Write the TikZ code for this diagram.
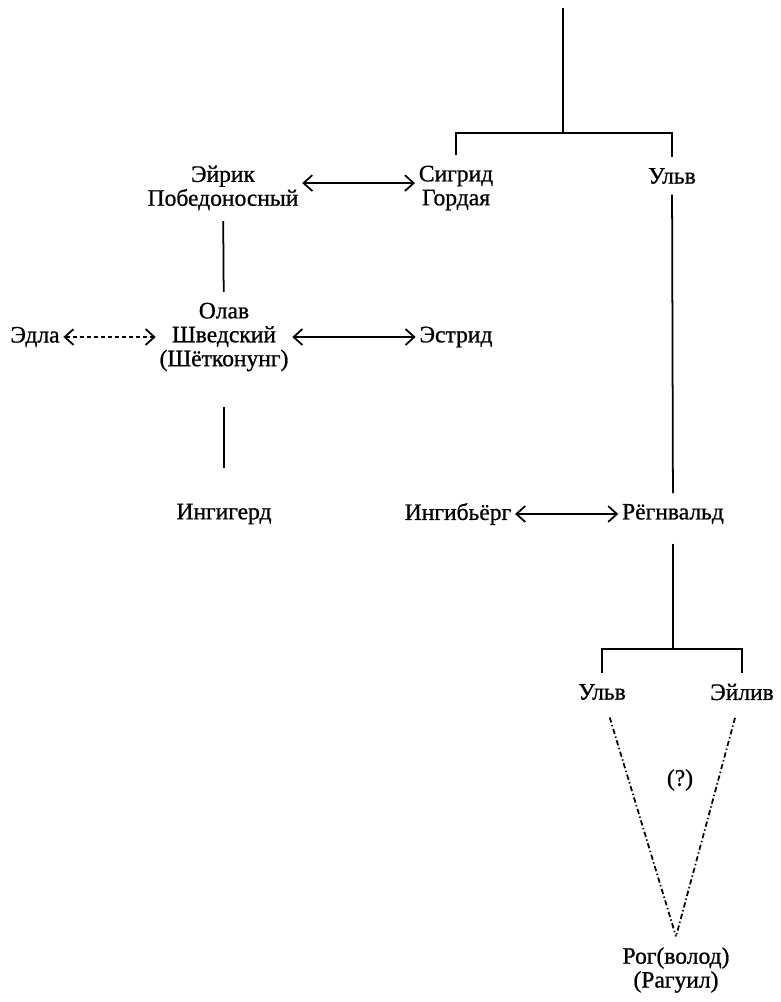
\documentclass[tikz,border=0pt]{standalone}
\usepackage{fontspec}
\setmainfont{Liberation Serif}[FakeBold=0.9]
\usetikzlibrary{arrows.meta}

\begin{document}
\begin{tikzpicture}[x=0.02cm, y=-0.02cm,
    person/.style={align=center, inner xsep=2pt, inner ysep=6pt,
      font=\fontsize{13.4}{13.6}\selectfont},
    kin/.style={line width=1pt},
    wed/.style={line width=1pt,
      {Straight Barb[length=5pt,width=9pt]}-{Straight Barb[length=5pt,width=9pt]}},
    guess/.style={line width=1pt, dash pattern=on 3pt off 1.5pt on 0.8pt off 1.5pt}]
    \useasboundingbox (0,0) rectangle (781,1002);

    % --- upper generation ---
    \coordinate (top) at (563,8);
    \coordinate (fork1) at (563,133);
    \node[person] (eirik)  at (223,188) {Эйрик\\Победоносный};
    \node[person] (sigrid) at (456,188) {Сигрид\\Гордая};
    \node[person] (ulv)    at (672,176) {Ульв};

    % --- Olav and his wives ---
    \node[person] (olav)   at (224,337) {Олав\\Шведский\\(Шётконунг)};
    \node[person] (edla)   at (35,337)  {Эдла};
    \node[person] (estrid) at (456,337) {Эстрид};

    % --- children ---
    \node[person] (ingigerd) at (224,514) {Ингигерд};
    \node[person] (ingib)    at (458,514) {Ингибьёрг};
    \node[person] (regn)     at (673,514) {Рёгнвальд};
    \coordinate (fork2) at (673,649);
    \node[person] (ulv2)   at (602,692) {Ульв};
    \node[person] (eiliv)  at (742,692) {Эйлив};
    \node[person] (rog)    at (676,970) {Рог(волод)\\(Рагуил)};
    \node[person] (query)  at (680,780) {(?)};

    % --- lines of descent ---
    \draw[kin] (top) -- (fork1);
    \draw[kin] (fork1) -| (sigrid);
    \draw[kin] (fork1) -| (ulv);
    \draw[kin] (eirik) -- (olav);
    \draw[kin, shorten <=14pt, shorten >=14pt] (olav) -- (ingigerd);
    \draw[kin] (ulv) -- (regn);
    \draw[kin, shorten <=5pt] (regn) -- (fork2);
    \draw[kin] (fork2) -| (ulv2);
    \draw[kin] (fork2) -| (eiliv);
    \draw[guess, shorten <=4pt] (ulv2) -- (rog.north);
    \draw[guess, shorten <=4pt] (eiliv) -- (rog.north);

    % --- marriages ---
    \draw[wed] ([yshift=2.8pt]eirik.east) -- ([yshift=2.8pt]sigrid.west);
    \draw[wed] (olav) -- (estrid);
    \draw[wed, dash pattern=on 2.5pt off 1.5pt] (edla) -- (olav);
    \draw[wed] (ingib) -- (regn);
\end{tikzpicture}
\end{document}
